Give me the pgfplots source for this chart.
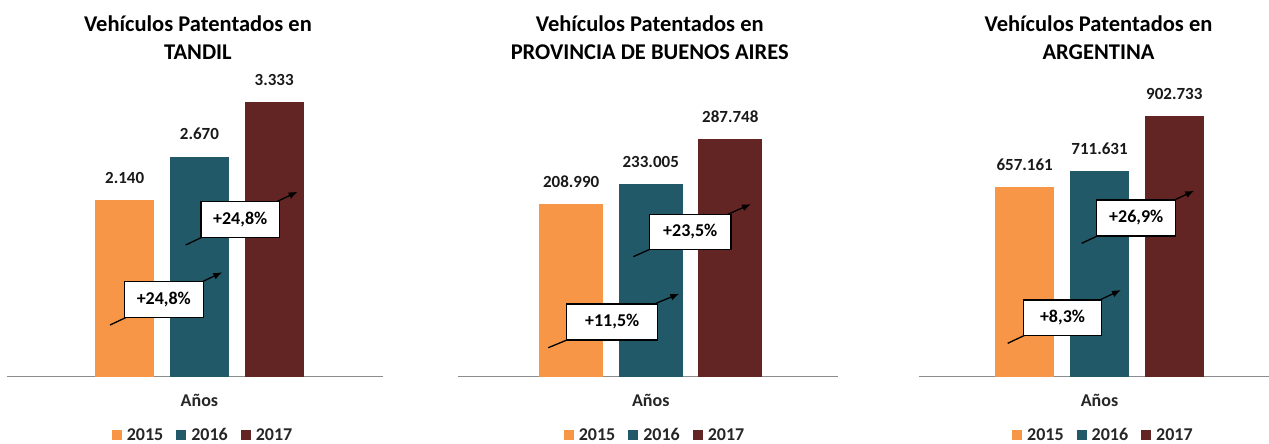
\documentclass[border=0pt]{standalone}
\usepackage{fontspec}
\setmainfont{Carlito}
\usepackage{pgfplots}
\pgfplotsset{compat=1.18}
\usetikzlibrary{arrows.meta}
\definecolor{c15}{HTML}{F79646}
\definecolor{c16}{HTML}{215968}
\definecolor{c17}{HTML}{632523}
\definecolor{axgray}{HTML}{8C8C8C}
\newcommand\fs[1]{\fontsize{#1}{#1}\selectfont\bfseries}
\pgfplotsset{
  panel/.style={
    scale only axis, anchor=south west, height=300.7pt,
    axis x line=bottom, axis y line=none,
    x axis line style={-, draw=axgray, line width=1.4pt},
    xtick=\empty, ytick=\empty, ymin=0, clip=false,
    ybar, bar shift=0pt,
    nodes near coords, point meta=explicit symbolic,
    every node near coord/.append style={inner sep=0pt, yshift=16.4pt, font=\fs{17}, text=black!90},
    legend columns=-1,
    legend image code/.code={\fill[##1] (0pt,-5pt) rectangle (10pt,5pt);},
    legend style={draw=none, inner sep=0pt, outer sep=0pt, fill=none,
      nodes={inner sep=0pt, font=\fs{18}, text=black!85},
      /tikz/every odd column/.append style={column sep=5pt},
      /tikz/every even column/.append style={column sep=13pt},
      anchor=north},
  },
  b15/.style={fill=c15, draw=none},
  b16/.style={fill=c16, draw=none},
  b17/.style={fill=c17, draw=none},
}
\begin{document}
\begin{tikzpicture}[x=1pt,y=1pt]
\useasboundingbox (0,0) rectangle (1269,444);
% ---------- Panel 1: TANDIL
\begin{axis}[panel, at={(7.3pt,67.3pt)}, width=375.4pt,
  xmin=-1.571, xmax=3.452, ymax=3647, bar width=59.3pt,
  legend style={at={(0.5187,-0.171)}}]
\addplot[b15] coordinates {(0,2140) [2.140]};
\addplot[b16] coordinates {(1,2670) [2.670]};
\addplot[b17] coordinates {(2,3333) [3.333]};
\legend{2015,2016,2017}
\node[anchor=south, align=center, inner sep=0pt, font=\fontsize{22.5}{28}\selectfont\bfseries]
  at (axis cs:1,0) [yshift=316.7pt, xshift=-1.5pt] {Vehículos Patentados en\\TANDIL};
\node[anchor=base, inner sep=0pt, font=\fs{18}, text=black!85] at (axis cs:1,0) [yshift=-29.5pt] {Años};
\end{axis}
% ---------- Panel 2: PROVINCIA DE BUENOS AIRES
\begin{axis}[panel, at={(457.7pt,67.3pt)}, width=380.6pt,
  xmin=-1.427, xmax=3.358, ymax=364449, bar width=63.8pt,
  legend style={at={(0.516,-0.171)}}]
\addplot[b15] coordinates {(0,208990) [208.990]};
\addplot[b16] coordinates {(1,233005) [233.005]};
\addplot[b17] coordinates {(2,287748) [287.748]};
\legend{2015,2016,2017}
\node[anchor=south, align=center, inner sep=0pt, font=\fontsize{22.5}{28}\selectfont\bfseries]
  at (axis cs:1,0) [yshift=316.7pt, xshift=-1pt] {Vehículos Patentados en\\PROVINCIA DE BUENOS AIRES};
\node[anchor=base, inner sep=0pt, font=\fs{18}, text=black!85] at (axis cs:1,0) [yshift=-29.5pt] {Años};
\end{axis}
% ---------- Panel 3: ARGENTINA
\begin{axis}[panel, at={(919pt,67.3pt)}, width=350pt,
  xmin=-1.413, xmax=3.266, ymax=1042226, bar width=59.5pt,
  legend style={at={(0.524,-0.171)}}]
\addplot[b15] coordinates {(0,657161) [657.161]};
\addplot[b16] coordinates {(1,711631) [711.631]};
\addplot[b17] coordinates {(2,902733) [902.733]};
\legend{2015,2016,2017}
\node[anchor=south, align=center, inner sep=0pt, font=\fontsize{22.5}{28}\selectfont\bfseries]
  at (axis cs:1,0) [yshift=316.7pt, xshift=-1pt] {Vehículos Patentados en\\ARGENTINA};
\node[anchor=base, inner sep=0pt, font=\fs{18}, text=black!85] at (axis cs:1,0) [yshift=-29.5pt] {Años};
\end{axis}
% ---------- growth arrows and boxes
\tikzset{gar/.style={line width=1.3pt, -{Latex[length=9pt,width=7pt]}},
  gbox/.style={draw=black, line width=1.5pt, fill=white, inner sep=0pt, font=\fs{18}}}
\draw[gar] (110,119) -- (222.3,171.7);
\node[gbox, minimum width=79pt, minimum height=36pt] at (163.8,144.3) {+24,8\%};
\draw[gar] (185.7,199) -- (297.7,252.3);
\node[gbox, minimum width=78.3pt, minimum height=35.6pt] at (240.2,224.5) {+24,8\%};
\draw[gar] (548.3,96.3) -- (679.3,150.3);
\node[gbox, minimum width=91pt, minimum height=36pt] at (612.2,122) {+11,5\%};
\draw[gar] (633.3,187.3) -- (751,240);
\node[gbox, minimum width=81.7pt, minimum height=35pt] at (690.2,212.2) {+23,5\%};
\draw[gar] (1007.7,100.7) -- (1121,154);
\node[gbox, minimum width=78.4pt, minimum height=35.7pt] at (1062.5,126.2) {+8,3\%};
\draw[gar] (1081.7,200.7) -- (1194.3,253.3);
\node[gbox, minimum width=79pt, minimum height=36pt] at (1136.2,226) {+26,9\%};
\end{tikzpicture}
\end{document}
